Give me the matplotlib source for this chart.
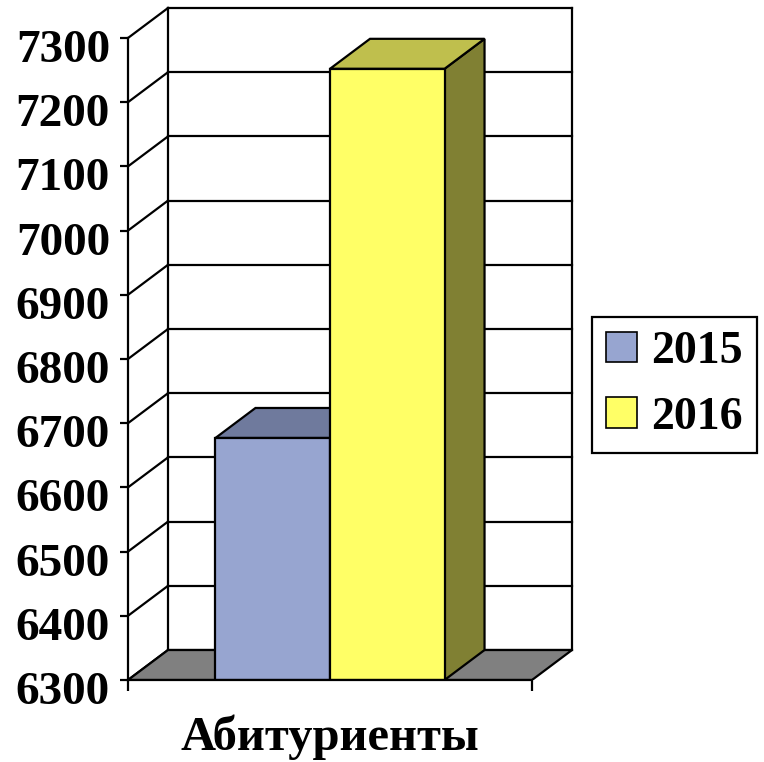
import matplotlib.pyplot as plt
import matplotlib.transforms as mtransforms
from matplotlib.patches import Polygon, Patch

# data
category = "Абитуриенты"
years = ["2015", "2016"]
values = [6677, 7252]
yticks = [6300, 6400, 6500, 6600, 6700, 6800, 6900, 7000, 7100, 7200, 7300]

front_colors = ["#97a5d0", "#ffff66"]
top_colors = ["#6f7a9d", "#bfbf4d"]
side_colors = ["#5a6280", "#808033"]

ymin, ymax = 6300, 7300
dx = 0.099      # depth offset along x (category units)
dz = 46.7       # depth offset along y (value units)
bar_w = 0.2835
lw = 1.6

plt.rcParams['font.family'] = ['Liberation Serif', 'DejaVu Serif']
plt.rcParams['font.weight'] = 'bold'

fig = plt.figure(figsize=(7.64, 7.62), dpi=100)
ax = fig.add_axes([128 / 764, 1 - 680 / 762, 444 / 764, 672 / 762])
ax.set_xlim(0, 1 + dx)
ax.set_ylim(ymin, ymax + dz)

# back wall and side wall gridlines
for t in yticks:
    ax.plot([dx, 1 + dx], [t + dz, t + dz], color='black', lw=lw, zorder=1, clip_on=False)
    ax.plot([0, dx], [t, t + dz], color='black', lw=lw, zorder=1, clip_on=False)
ax.plot([dx, dx], [ymin + dz, ymax + dz], color='black', lw=lw, zorder=1, clip_on=False)
ax.plot([1 + dx, 1 + dx], [ymin + dz, ymax + dz], color='black', lw=lw, zorder=1, clip_on=False)

# floor
ax.add_patch(Polygon([(0, ymin), (1, ymin), (1 + dx, ymin + dz), (dx, ymin + dz)],
                     closed=True, facecolor='#808080', edgecolor='black', lw=lw, zorder=2))

# bars
left0 = 0.5 - bar_w
for i, v in enumerate(values):
    x0 = left0 + i * bar_w
    x1 = x0 + bar_w
    ax.add_patch(Polygon([(x1, ymin), (x1 + dx, ymin + dz), (x1 + dx, v + dz), (x1, v)],
                         closed=True, facecolor=side_colors[i], edgecolor='black', lw=lw, zorder=3 + i))
    ax.add_patch(Polygon([(x0, v), (x1, v), (x1 + dx, v + dz), (x0 + dx, v + dz)],
                         closed=True, facecolor=top_colors[i], edgecolor='black', lw=lw, zorder=3 + i))
    ax.add_patch(Polygon([(x0, ymin), (x1, ymin), (x1, v), (x0, v)],
                         closed=True, facecolor=front_colors[i], edgecolor='black', lw=lw, zorder=3 + i))

# axes
for s in ['top', 'right']:
    ax.spines[s].set_visible(False)
ax.spines['left'].set_bounds(ymin, ymax)
ax.spines['bottom'].set_bounds(0, 1)
ax.spines['left'].set_linewidth(lw)
ax.spines['bottom'].set_linewidth(lw)
ax.spines['bottom'].set_zorder(6)
ax.set_yticks(yticks)
ax.set_yticklabels([str(t) for t in yticks], fontsize=34, fontweight='bold')
ax.tick_params(axis='y', length=6, width=lw, pad=7)
# labels sit a little below their ticks in the original
shift = mtransforms.ScaledTranslation(0, -8 / 100, fig.dpi_scale_trans)
for lab in ax.get_yticklabels():
    lab.set_transform(lab.get_transform() + shift)
ax.set_xticks([0.5])
ax.set_xticklabels([category], fontsize=35, fontweight='bold')
ax.set_xticks([0, 1], minor=True)
ax.tick_params(axis='x', which='major', length=0, pad=25)
ax.tick_params(axis='x', which='minor', length=8, width=lw)
ax.set_facecolor('none')

handles = [Patch(facecolor=c, edgecolor='black', lw=1.2) for c in front_colors]
leg = fig.legend(handles, years, loc='center', bbox_to_anchor=(674.5 / 764, 1 - 385 / 762),
                 fancybox=False, edgecolor='black', framealpha=1,
                 prop={'size': 33, 'weight': 'bold'},
                 handlelength=0.68, handleheight=0.66, handletextpad=0.3,
                 labelspacing=0.52, borderpad=0.3, borderaxespad=0)
leg.get_frame().set_linewidth(lw)

fig.savefig('out.png', dpi=100)
